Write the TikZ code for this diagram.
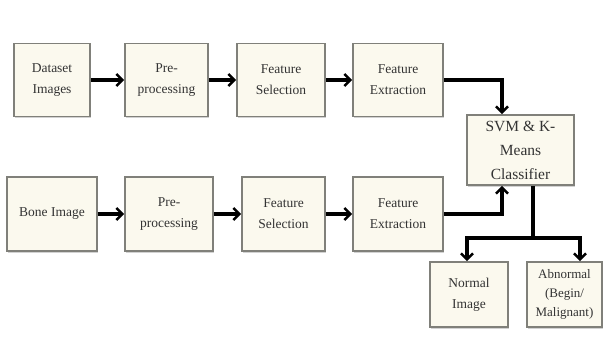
\documentclass[tikz,border=0pt]{standalone}
\usepackage{fontspec}
\setmainfont{Liberation Serif}
\usepackage{tikz}
\usetikzlibrary{arrows.meta,shadows}
\definecolor{boxfill}{RGB}{251,249,238}
\definecolor{boxline}{RGB}{128,128,122}
\tikzset{blk/.style={draw=boxline, line width=1.6pt, fill=boxfill, text=black!80,
  align=center, inner sep=0pt, minimum height=73pt,
  font=\fontsize{13.5}{21}\selectfont,
  drop shadow={shadow xshift=1.2pt, shadow yshift=-1.8pt, fill=black!35}}}
\tikzset{flow/.style={line width=3.2pt, -{Straight Barb[length=6pt,width=12pt,line width=2.6pt]}}}
\tikzset{wire/.style={line width=3.2pt}}

\begin{document}
\begin{tikzpicture}[x=1pt, y=-1pt]
\useasboundingbox (0,0) rectangle (603,345);

\node[blk, minimum width=76pt] (ds) at (52, 80) {Dataset\\Images};
\node[blk, minimum width=83pt] (pre1) at (166.5, 80) {Pre-\\processing};
\node[blk, minimum width=88pt] (fs1) at (281, 80) {Feature\\Selection};
\node[blk, minimum width=90pt] (fe1) at (398, 80) {Feature\\Extraction};

\node[blk, minimum width=107pt, minimum height=70pt, font=\fontsize{15.5}{24}\selectfont] (svm) at (520.5, 150) {SVM \& K-\\Means\\Classifier};

\node[blk, minimum width=90pt, minimum height=74pt] (bone) at (52, 214) {Bone Image};
\node[blk, minimum width=88pt, minimum height=74pt] (pre2) at (169, 214) {Pre-\\processing};
\node[blk, minimum width=83pt, minimum height=74pt] (fs2) at (283.5, 214) {Feature\\Selection};
\node[blk, minimum width=90pt, minimum height=74pt] (fe2) at (398, 214) {Feature\\Extraction};

\node[blk, minimum width=78pt, minimum height=65pt] (norm) at (469, 294.5) {Normal\\Image};
\node[blk, minimum width=75pt, minimum height=65pt, font=\fontsize{13}{19}\selectfont] (abn) at (564.5, 294.5) {Abnormal\\(Begin/\\Malignant)};

\draw[flow] (ds) -- (pre1);
\draw[flow] (pre1) -- (fs1);
\draw[flow] (fs1) -- (fe1);
\draw[flow] (fe1.east) -| ([xshift=-18.5pt]svm.north);

\draw[flow] (bone) -- (pre2);
\draw[flow] (pre2) -- (fs2);
\draw[flow] (fs2) -- (fe2);
\draw[flow] (fe2.east) -| ([xshift=-18.5pt]svm.south);

\coordinate (split) at (533, 238);
\draw[wire] (svm.south -| split) -- (split);
\draw[flow] ([xshift=1.6pt]split) -| ([xshift=-2pt]norm.north);
\draw[flow] ([xshift=-1.6pt]split) -| ([xshift=15.5pt]abn.north);
\end{tikzpicture}
\end{document}
